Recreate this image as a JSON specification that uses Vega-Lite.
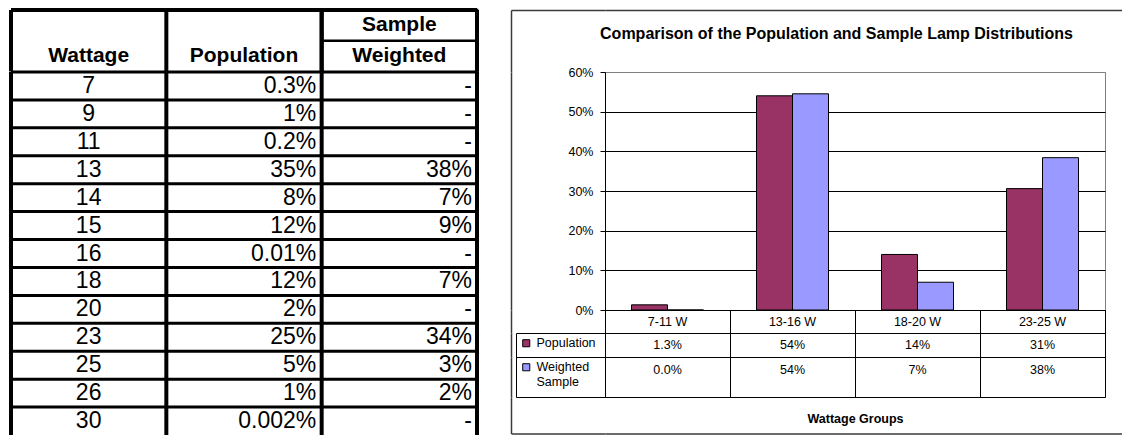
{
  "$schema": "https://vega.github.io/schema/vega-lite/v6.json",
  "padding": {"left": 9, "top": 8, "right": 0, "bottom": 0},
  "spacing": 31,
  "config": {
    "font": "Liberation Sans",
    "view": {"stroke": null},
    "text": {"color": "black"}
  },
  "datasets": {
    "lamps": [
      {"w": 7, "pop": "0.3%", "wt": "-"},
      {"w": 9, "pop": "1%", "wt": "-"},
      {"w": 11, "pop": "0.2%", "wt": "-"},
      {"w": 13, "pop": "35%", "wt": "38%"},
      {"w": 14, "pop": "8%", "wt": "7%"},
      {"w": 15, "pop": "12%", "wt": "9%"},
      {"w": 16, "pop": "0.01%", "wt": "-"},
      {"w": 18, "pop": "12%", "wt": "7%"},
      {"w": 20, "pop": "2%", "wt": "-"},
      {"w": 23, "pop": "25%", "wt": "34%"},
      {"w": 25, "pop": "5%", "wt": "3%"},
      {"w": 26, "pop": "1%", "wt": "2%"},
      {"w": 30, "pop": "0.002%", "wt": "-"}
    ],
    "bars": [
      {"group": "7-11 W", "series": "Population", "share": 0.013},
      {"group": "7-11 W", "series": "Weighted Sample", "share": 0.0},
      {"group": "13-16 W", "series": "Population", "share": 0.54},
      {"group": "13-16 W", "series": "Weighted Sample", "share": 0.545},
      {"group": "18-20 W", "series": "Population", "share": 0.14},
      {"group": "18-20 W", "series": "Weighted Sample", "share": 0.07},
      {"group": "23-25 W", "series": "Population", "share": 0.306},
      {"group": "23-25 W", "series": "Weighted Sample", "share": 0.384}
    ],
    "groupTable": [
      {"group": "7-11 W", "pop": "1.3%", "wt": "0.0%"},
      {"group": "13-16 W", "pop": "54%", "wt": "54%"},
      {"group": "18-20 W", "pop": "14%", "wt": "7%"},
      {"group": "23-25 W", "pop": "31%", "wt": "38%"}
    ]
  },
  "resolve": {"scale": {"x": "independent", "y": "independent", "color": "independent"}},
  "hconcat": [
    {
      "vconcat": [
        {
          "width": 466,
          "height": 61.5,
          "data": {"values": [
            {"col": "Wattage", "part": "lower", "label": "Wattage"},
            {"col": "Population", "part": "lower", "label": "Population"},
            {"col": "Weighted", "part": "upper", "label": "Sample"},
            {"col": "Weighted", "part": "lower", "label": "Weighted"}
          ]},
          "layer": [
            {
              "transform": [{"filter": "datum.part == 'upper'"}],
              "mark": {"type": "rect", "fillOpacity": 0, "stroke": "black", "strokeWidth": 2.5},
              "encoding": {
                "x": {"field": "col", "type": "nominal", "scale": {"domain": ["Wattage", "Population", "Weighted"], "paddingInner": 0, "paddingOuter": 0}, "axis": null},
                "y": {"field": "part", "type": "nominal", "scale": {"domain": ["upper", "lower"], "paddingInner": 0, "paddingOuter": 0}, "axis": null}
              }
            },
            {
              "mark": {"type": "rule", "strokeWidth": 4, "color": "black"},
              "encoding": {"x": {"field": "col", "type": "nominal", "bandPosition": 0}}
            },
            {
              "mark": {"type": "rule", "strokeWidth": 4, "color": "black"},
              "encoding": {"x": {"datum": "Weighted", "type": "nominal", "bandPosition": 1}}
            },
            {
              "mark": {"type": "rule", "strokeWidth": 4, "color": "black"},
              "encoding": {"y": {"datum": "upper", "type": "nominal", "bandPosition": 0}}
            },
            {
              "mark": {"type": "text", "fontSize": 21, "fontWeight": "bold", "baseline": "middle"},
              "encoding": {
                "x": {"field": "col", "type": "nominal"},
                "y": {"field": "part", "type": "nominal"},
                "text": {"field": "label"}
              }
            }
          ]
        },
        {
          "width": 466,
          "height": 363,
          "data": {"name": "lamps"},
          "layer": [
            {
              "mark": {"type": "rule", "strokeWidth": 3, "color": "black"},
              "encoding": {
                "y": {"field": "w", "type": "ordinal", "sort": null, "bandPosition": 0, "scale": {"paddingInner": 0, "paddingOuter": 0}, "axis": null}
              }
            },
            {
              "data": {"values": [{"col": "Wattage"}, {"col": "Population"}, {"col": "Weighted"}]},
              "mark": {"type": "rule", "strokeWidth": 4, "color": "black"},
              "encoding": {
                "x": {"field": "col", "type": "nominal", "bandPosition": 0, "scale": {"domain": ["Wattage", "Population", "Weighted"], "paddingInner": 0, "paddingOuter": 0}, "axis": null}
              }
            },
            {
              "data": {"values": [{"col": "Weighted"}]},
              "mark": {"type": "rule", "strokeWidth": 4, "color": "black"},
              "encoding": {"x": {"field": "col", "type": "nominal", "bandPosition": 1}}
            },
            {
              "mark": {"type": "text", "fontSize": 23, "baseline": "middle"},
              "encoding": {
                "x": {"datum": "Wattage", "type": "nominal"},
                "y": {"field": "w", "type": "ordinal", "sort": null},
                "text": {"field": "w"}
              }
            },
            {
              "mark": {"type": "text", "fontSize": 23, "baseline": "middle", "align": "right"},
              "encoding": {
                "x": {"datum": "Population", "type": "nominal", "bandPosition": 0.965},
                "y": {"field": "w", "type": "ordinal", "sort": null},
                "text": {"field": "pop"}
              }
            },
            {
              "mark": {"type": "text", "fontSize": 23, "baseline": "middle", "align": "right"},
              "encoding": {
                "x": {"datum": "Weighted", "type": "nominal", "bandPosition": 0.968},
                "y": {"field": "w", "type": "ordinal", "sort": null},
                "text": {"field": "wt"}
              }
            }
          ]
        }
      ],
      "spacing": 0,
      "bounds": "flush"
    },
    {
      "columns": 2,
      "spacing": 0,
      "bounds": "flush",
      "resolve": {"scale": {"x": "independent", "y": "independent", "color": "independent"}, "legend": {"color": "independent"}},
      "concat": [
        {
          "width": 89, "height": 62,
          "data": {"values": [{}]},
          "mark": {"type": "text"},
          "encoding": {
            "text": {"value": ""},
            "x": {"datum": 0, "type": "quantitative", "scale": {"domain": [0, 1], "range": [-5, 89]},
              "axis": {"orient": "top", "domain": true, "domainColor": "#3a3a3a", "domainWidth": 1.5, "labels": false, "ticks": false, "grid": false, "title": null}},
            "y": {"datum": 0, "type": "quantitative", "scale": {"domain": [0, 1]},
              "axis": {"orient": "left", "offset": 5, "domain": true, "domainColor": "#3a3a3a", "domainWidth": 1.5, "labels": false, "ticks": false, "grid": false, "title": null}}
          }
        },
        {
          "width": 517, "height": 62,
          "data": {"values": [{"title": "Comparison of the Population and Sample Lamp Distributions"}]},
          "layer": [
            {
              "mark": {"type": "text", "fontSize": 16, "fontWeight": "bold", "baseline": "middle", "dx": -27, "dy": -7},
              "encoding": {"text": {"field": "title"}}
            },
            {
              "mark": {"type": "text"},
              "encoding": {
                "text": {"value": ""},
                "x": {"datum": 0, "type": "quantitative", "scale": {"domain": [0, 1]},
                  "axis": {"orient": "top", "domain": true, "domainColor": "#3a3a3a", "domainWidth": 1.5, "labels": false, "ticks": false, "grid": false, "title": null}}
              }
            }
          ]
        },
        {
          "width": 89, "height": 238,
          "data": {"values": [{}]},
          "mark": {"type": "text"},
          "encoding": {
            "text": {"value": ""},
            "y": {"datum": 0, "type": "quantitative", "scale": {"domain": [0, 1]},
              "axis": {"orient": "left", "offset": 5, "domain": true, "domainColor": "#3a3a3a", "domainWidth": 1.5, "labels": false, "ticks": false, "grid": false, "title": null}}
          }
        },
        {
          "width": 500, "height": 238,
          "view": {"stroke": "#808080"},
          "data": {"name": "bars"},
          "mark": {"type": "bar", "stroke": "black", "strokeWidth": 1},
          "encoding": {
            "x": {"field": "group", "type": "nominal", "sort": null, "scale": {"paddingInner": 0.424, "paddingOuter": 0.212}, "axis": null},
            "xOffset": {"field": "series", "type": "nominal", "sort": null, "scale": {"paddingInner": 0, "paddingOuter": 0}},
            "y": {"field": "share", "type": "quantitative", "scale": {"domain": [0, 0.6]},
              "axis": {"values": [0, 0.1, 0.2, 0.3, 0.4, 0.5, 0.6], "format": ".0%", "title": null, "labelFontSize": 12.5, "labelColor": "black", "labelPadding": 7, "tickSize": 5, "tickColor": "black", "domainColor": "black", "grid": true, "gridOpacity": 1,
                "gridColor": {"condition": {"test": "datum.value >= 0.6", "value": "#808080"}, "value": "black"}}},
            "color": {"field": "series", "type": "nominal", "scale": {"domain": ["Population", "Weighted Sample"], "range": ["#993366", "#9999FF"]}, "legend": null}
          }
        },
        {
          "width": 89, "height": 23,
          "data": {"values": [{}]},
          "mark": {"type": "text"},
          "encoding": {
            "text": {"value": ""},
            "y": {"datum": 0, "type": "quantitative", "scale": {"domain": [0, 1]},
              "axis": {"orient": "left", "offset": 5, "domain": true, "domainColor": "#3a3a3a", "domainWidth": 1.5, "labels": false, "ticks": false, "grid": false, "title": null}}
          }
        },
        {
          "width": 500, "height": 23,
          "view": {"stroke": "black"},
          "data": {"name": "groupTable"},
          "mark": {"type": "text", "fontSize": 12.5, "baseline": "middle"},
          "encoding": {
            "x": {"field": "group", "type": "nominal", "sort": null, "scale": {"paddingInner": 0, "paddingOuter": 0},
              "axis": {"orient": "top", "grid": true, "tickBand": "extent", "gridColor": "black", "gridOpacity": 1, "labels": false, "ticks": false, "domain": false, "title": null}},
            "text": {"field": "group"}
          }
        },
        {
          "width": 89, "height": 24,
          "view": {"stroke": "black"},
          "data": {"values": [{"series": "Population"}]},
          "mark": {"type": "square", "opacity": 0},
          "encoding": {
            "y": {"datum": 0, "type": "quantitative", "scale": {"domain": [0, 1]},
              "axis": {"orient": "left", "offset": 5, "domain": true, "domainColor": "#3a3a3a", "domainWidth": 1.5, "labels": false, "ticks": false, "grid": false, "title": null}},
            "color": {"field": "series", "type": "nominal", "scale": {"domain": ["Population"], "range": ["#993366"]},
              "legend": {"orient": "top-left", "offset": 4, "padding": 0, "title": null, "symbolType": "square", "symbolSize": 50, "symbolStrokeColor": "black", "symbolStrokeWidth": 1, "symbolOpacity": 1, "labelFontSize": 12.5, "labelColor": "black", "labelOffset": 4}}
          }
        },
        {
          "width": 500, "height": 24,
          "view": {"stroke": "black"},
          "data": {"name": "groupTable"},
          "mark": {"type": "text", "fontSize": 12.5, "baseline": "middle"},
          "encoding": {
            "x": {"field": "group", "type": "nominal", "sort": null, "scale": {"paddingInner": 0, "paddingOuter": 0},
              "axis": {"orient": "top", "grid": true, "tickBand": "extent", "gridColor": "black", "gridOpacity": 1, "labels": false, "ticks": false, "domain": false, "title": null}},
            "text": {"field": "pop"}
          }
        },
        {
          "width": 89, "height": 40,
          "view": {"stroke": "black"},
          "data": {"values": [{"series": "Weighted Sample"}]},
          "mark": {"type": "square", "opacity": 0},
          "encoding": {
            "y": {"datum": 0, "type": "quantitative", "scale": {"domain": [0, 1]},
              "axis": {"orient": "left", "offset": 5, "domain": true, "domainColor": "#3a3a3a", "domainWidth": 1.5, "labels": false, "ticks": false, "grid": false, "title": null}},
            "color": {"field": "series", "type": "nominal", "scale": {"domain": ["Weighted Sample"], "range": ["#9999FF"]},
              "legend": {"orient": "top-left", "offset": 4, "padding": 0, "title": null, "symbolType": "square", "symbolSize": 50, "symbolStrokeColor": "black", "symbolStrokeWidth": 1, "symbolOpacity": 1, "labelFontSize": 12.5, "labelColor": "black", "labelOffset": 4, "labelExpr": "split(datum.label, ' ')"}}
          }
        },
        {
          "width": 500, "height": 40,
          "view": {"stroke": "black"},
          "data": {"name": "groupTable"},
          "mark": {"type": "text", "fontSize": 12.5, "baseline": "bottom"},
          "encoding": {
            "x": {"field": "group", "type": "nominal", "sort": null, "scale": {"paddingInner": 0, "paddingOuter": 0},
              "axis": {"orient": "bottom", "grid": true, "tickBand": "extent", "gridColor": "black", "gridOpacity": 1, "labels": false, "ticks": false, "domain": false, "title": "Wattage Groups", "titleFontSize": 12.5, "titleFontWeight": "bold", "titleColor": "black", "titlePadding": 15}},
            "text": {"field": "wt"}
          }
        },
        {
          "width": 89, "height": 36.5,
          "data": {"values": [{}]},
          "mark": {"type": "text"},
          "encoding": {
            "text": {"value": ""},
            "x": {"datum": 0, "type": "quantitative", "scale": {"domain": [0, 1], "range": [-5, 89]},
              "axis": {"orient": "bottom", "domain": true, "domainColor": "#3a3a3a", "domainWidth": 1.5, "labels": false, "ticks": false, "grid": false, "title": null}},
            "y": {"datum": 0, "type": "quantitative", "scale": {"domain": [0, 1]},
              "axis": {"orient": "left", "offset": 5, "domain": true, "domainColor": "#3a3a3a", "domainWidth": 1.5, "labels": false, "ticks": false, "grid": false, "title": null}}
          }
        },
        {
          "width": 517, "height": 36.5,
          "data": {"values": [{}]},
          "mark": {"type": "text"},
          "encoding": {
            "text": {"value": ""},
            "x": {"datum": 0, "type": "quantitative", "scale": {"domain": [0, 1]},
              "axis": {"orient": "bottom", "domain": true, "domainColor": "#3a3a3a", "domainWidth": 1.5, "labels": false, "ticks": false, "grid": false, "title": null}}
          }
        }
      ]
    }
  ]
}
